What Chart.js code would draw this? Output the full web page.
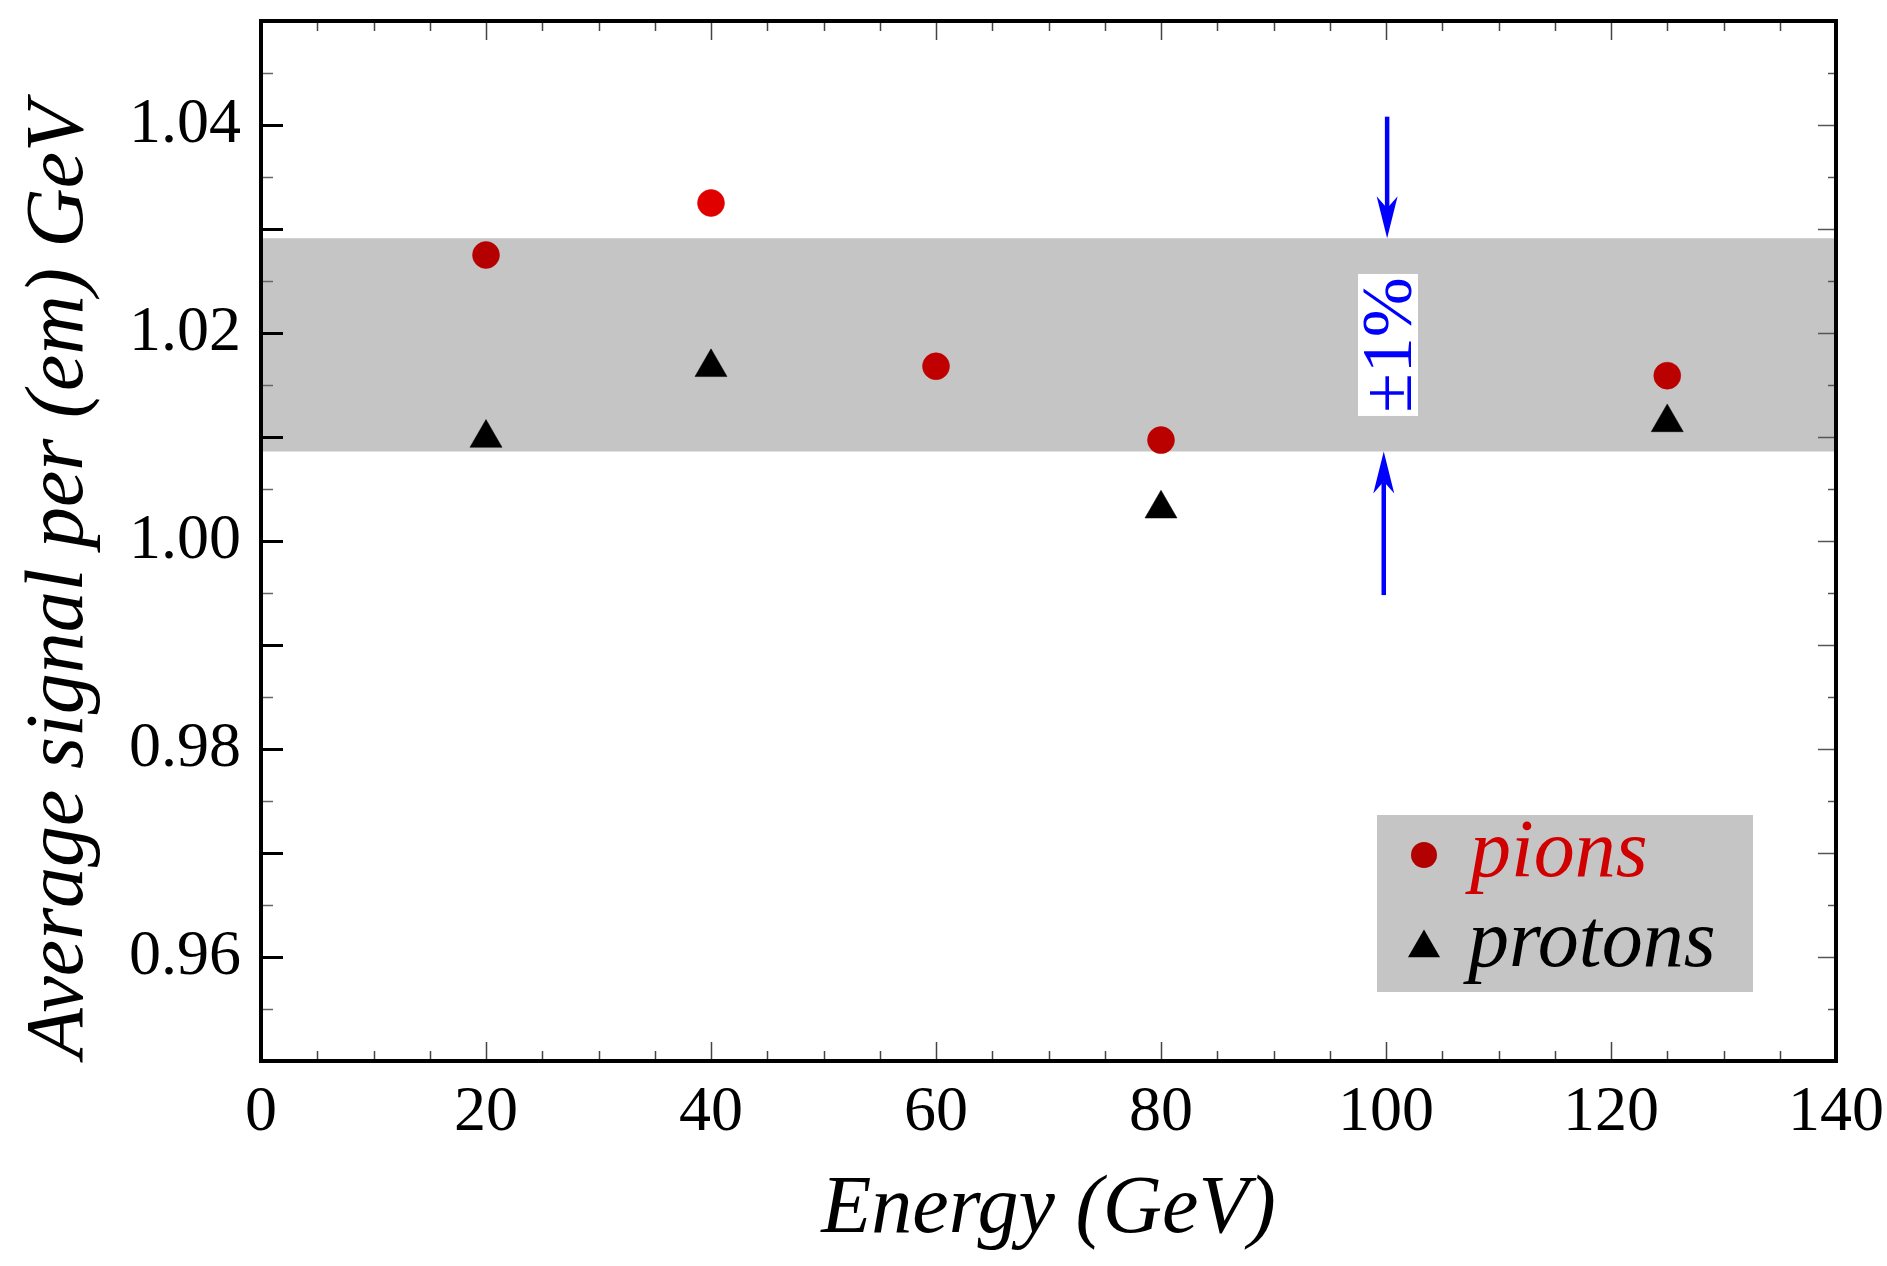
<!DOCTYPE html>
<html>
<head>
<meta charset="utf-8">
<script src="https://cdn.jsdelivr.net/npm/chart.js@4/dist/chart.umd.min.js"></script>
<style>
  html, body { margin: 0; padding: 0; background: #fff; }
  #wrap { width: 1887px; height: 1266px; }
</style>
</head>
<body>
<div id="wrap"><canvas id="signalChart" width="1887" height="1266"></canvas></div>
<script>
// values
const pionEnergies = [20, 40, 60, 80, 125];
const pionSignal = [1.0275, 1.0325, 1.0168, 1.0097, 1.0159];
const pionColors = ["#b40000", "#e00000", "#c00000", "#bb0000", "#bb0000"];

const protonEnergies = [20, 40, 80, 125];
const protonSignal = [1.0099, 1.0167, 1.0031, 1.0114];

const bandRange = [1.0086, 1.0291]; // +-1% grey band
const arrowX = [100.1, 99.8];
const arrowTails = [1.0408, 0.9948];

const xTickValues = [0, 20, 40, 60, 80, 100, 120, 140];
const yTickValues = [0.96, 0.98, 1.0, 1.02, 1.04];

const serif = "'Liberation Serif', 'Times New Roman', serif";
const bandColor = "#c5c5c5";

// inside tick marks + frame on all four sides
const frameTicks = {
  id: "frameTicks",
  afterDatasetsDraw(chart) {
    const { ctx, chartArea: a, scales: { x, y } } = chart;
    ctx.save();
    ctx.lineCap = "butt";
    for (let i = 1; i < 20; i++) {
      const py = Math.round(y.getPixelForValue(0.95 + i * 0.005)) + 0.5;
      const major = i % 2 === 0;
      ctx.strokeStyle = major ? "#000" : "#666";
      ctx.lineWidth = major ? 3 : 1.5;
      ctx.beginPath();
      ctx.moveTo(a.left, py);
      ctx.lineTo(a.left + (major ? 22 : 12), py);
      ctx.stroke();
      ctx.strokeStyle = "#555";
      ctx.lineWidth = 1.5;
      ctx.beginPath();
      ctx.moveTo(a.right, py);
      ctx.lineTo(a.right - (major ? 18 : 8), py);
      ctx.stroke();
    }
    for (let i = 1; i < 28; i++) {
      const px = Math.round(x.getPixelForValue(i * 5)) + 0.5;
      const major = i % 4 === 0;
      ctx.strokeStyle = "#444";
      ctx.lineWidth = 1.5;
      ctx.beginPath();
      ctx.moveTo(px, a.bottom);
      ctx.lineTo(px, a.bottom - (major ? 19 : 10));
      ctx.moveTo(px, a.top);
      ctx.lineTo(px, a.top + (major ? 19 : 10));
      ctx.stroke();
    }
    ctx.strokeStyle = "#000";
    ctx.lineWidth = 4;
    ctx.strokeRect(a.left, a.top, a.right - a.left, a.bottom - a.top);
    ctx.restore();
  },
};

// y title, blue arrows, the +-1% label and the legend box
const notes = {
  id: "notes",
  afterDraw(chart) {
    const { ctx, chartArea: a, scales: { x, y } } = chart;
    ctx.save();

    // y axis title sits a little below the middle of the frame
    ctx.translate(82, 580);
    ctx.rotate(-Math.PI / 2);
    ctx.fillStyle = "#000";
    ctx.font = "italic 82px " + serif;
    ctx.textAlign = "center";
    ctx.textBaseline = "alphabetic";
    ctx.fillText("Average signal per (em) GeV", 0, 0);
    ctx.setTransform(1, 0, 0, 1, 0, 0);

    ctx.fillStyle = "#0000ff";
    ctx.strokeStyle = "#0000ff";
    ctx.lineWidth = 4.5;
    const tips = [bandRange[1], bandRange[0]];
    for (let k = 0; k < 2; k++) {
      const px = x.getPixelForValue(arrowX[k]);
      const tail = y.getPixelForValue(arrowTails[k]);
      const tip = y.getPixelForValue(tips[k]);
      const dir = tip > tail ? 1 : -1;
      ctx.beginPath();
      ctx.moveTo(px, tail);
      ctx.lineTo(px, tip - dir * 30);
      ctx.stroke();
      ctx.beginPath();
      ctx.moveTo(px, tip);
      ctx.lineTo(px - 10.5, tip - dir * 42);
      ctx.lineTo(px, tip - dir * 30);
      ctx.lineTo(px + 10.5, tip - dir * 42);
      ctx.closePath();
      ctx.fill();
    }
    // rotated label
    const cx = x.getPixelForValue(100) + 2;
    const cy = y.getPixelForValue((bandRange[0] + bandRange[1]) / 2);
    ctx.translate(cx, cy);
    ctx.rotate(-Math.PI / 2);
    ctx.fillStyle = "#fff";
    ctx.fillRect(-71, -30, 142, 60);
    ctx.fillStyle = "#0000ff";
    ctx.font = "72px " + serif;
    ctx.textAlign = "center";
    ctx.textBaseline = "alphabetic";
    ctx.fillText("\u00b11%", 0, 23);
    ctx.setTransform(1, 0, 0, 1, 0, 0);

    // legend
    const lx = a.right - 459;
    const ly = a.bottom - 246;
    ctx.fillStyle = bandColor;
    ctx.fillRect(lx, ly, 376, 177);
    ctx.fillStyle = "#b30000";
    ctx.beginPath();
    ctx.arc(lx + 47, ly + 40, 13, 0, Math.PI * 2);
    ctx.fill();
    ctx.fillStyle = "#000";
    const r = 18.5;
    const tx = lx + 47, ty = ly + 133;
    ctx.beginPath();
    ctx.moveTo(tx, ty - r);
    ctx.lineTo(tx + r * 0.866, ty + r * 0.5);
    ctx.lineTo(tx - r * 0.866, ty + r * 0.5);
    ctx.closePath();
    ctx.fill();
    ctx.font = "italic 82px " + serif;
    ctx.textAlign = "left";
    ctx.textBaseline = "alphabetic";
    ctx.fillStyle = "#d10000";
    ctx.fillText("pions", lx + 93, ly + 61);
    ctx.fillStyle = "#000";
    ctx.fillText("protons", lx + 91, ly + 151);
    ctx.restore();
  },
};

const ctx = document.getElementById("signalChart").getContext("2d");
new Chart(ctx, {
  type: "line",
  data: {
    datasets: [
      {
        label: "band top",
        data: [{ x: 0, y: bandRange[1] }, { x: 140, y: bandRange[1] }],
        fill: "+1",
        backgroundColor: bandColor,
        borderWidth: 0,
        pointRadius: 0,
        order: 10,
      },
      {
        label: "band bottom",
        data: [{ x: 0, y: bandRange[0] }, { x: 140, y: bandRange[0] }],
        fill: false,
        borderWidth: 0,
        pointRadius: 0,
        order: 11,
      },
      {
        label: "pions",
        data: pionEnergies.map((e, i) => ({ x: e, y: pionSignal[i] })),
        showLine: false,
        pointStyle: "circle",
        pointRadius: 13.5,
        pointBackgroundColor: pionColors,
        pointBorderColor: pionColors,
        pointBorderWidth: 0.5,
        order: 2,
      },
      {
        label: "protons",
        data: protonEnergies.map((e, i) => ({ x: e, y: protonSignal[i] })),
        showLine: false,
        pointStyle: "triangle",
        pointRadius: 18.5,
        pointBackgroundColor: "#000",
        pointBorderColor: "#000",
        pointBorderWidth: 0.5,
        order: 1,
      },
    ],
  },
  options: {
    responsive: false,
    animation: false,
    layout: { padding: { top: 21, right: 51, left: 0, bottom: 0 } },
    plugins: {
      legend: { display: false },
      tooltip: { enabled: false },
    },
    scales: {
      x: {
        type: "linear",
        min: 0,
        max: 140,
        afterBuildTicks: (s) => {
          s.ticks = xTickValues.map((v) => ({ value: v }));
        },
        afterFit: (s) => {
          s.height = 205;
          s.paddingLeft = 0;
          s.paddingRight = 0;
        },
        grid: { display: false, drawTicks: false },
        border: { display: false },
        ticks: {
          padding: 14,
          color: "#000",
          maxRotation: 0,
          autoSkip: false,
          font: { family: serif, size: 64 },
          callback: (v) => String(v),
        },
        title: {
          display: true,
          text: "Energy (GeV)",
          color: "#000",
          font: { family: serif, size: 82, style: "italic" },
          padding: { top: 0, bottom: 6 },
        },
      },
      y: {
        type: "linear",
        min: 0.95,
        max: 1.05,
        afterBuildTicks: (s) => {
          s.ticks = yTickValues.map((v) => ({ value: v }));
        },
        afterFit: (s) => {
          s.width = 261;
          s.paddingTop = 0;
          s.paddingBottom = 0;
        },
        grid: { display: false, drawTicks: false },
        border: { display: false },
        ticks: {
          padding: 20,
          color: "#000",
          autoSkip: false,
          font: { family: serif, size: 64 },
          callback: (v) => Number(v).toFixed(2),
        },
        title: { display: false },
      },
    },
  },
  plugins: [frameTicks, notes],
});
</script>
</body>
</html>
